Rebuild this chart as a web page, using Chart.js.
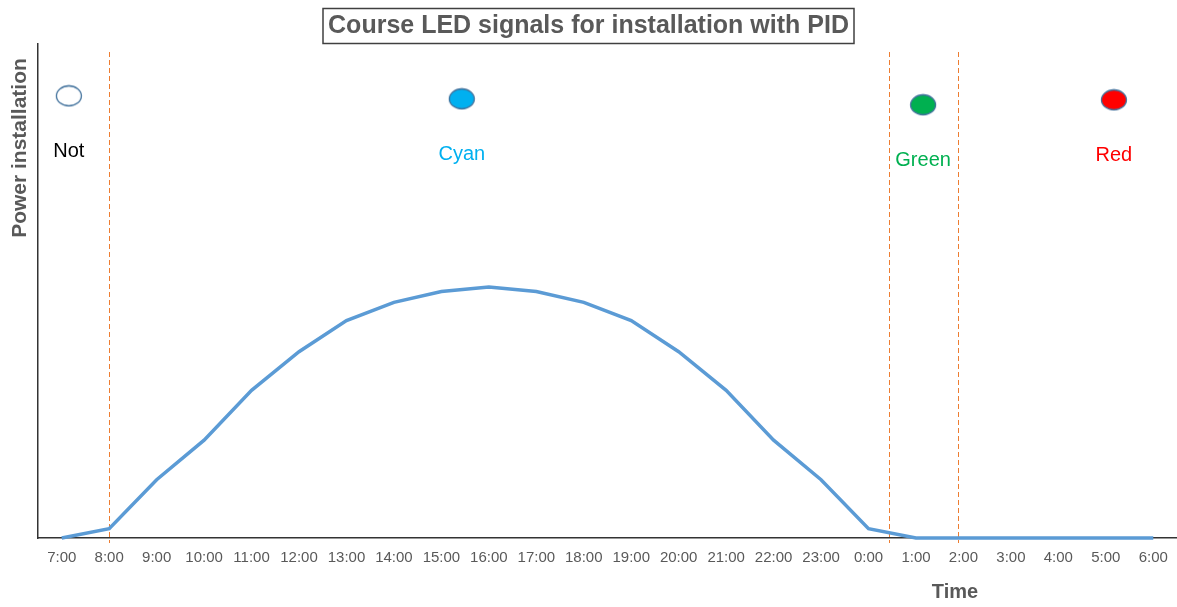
<!DOCTYPE html>
<html lang="en">
<head>
<meta charset="utf-8">
<title>Course LED signals for installation with PID</title>
<script src="https://cdn.jsdelivr.net/npm/chart.js@4.4.1/dist/chart.umd.min.js"></script>
<style>
    html, body { margin: 0; padding: 0; background: #ffffff; }
    #led-chart { display: block; }
</style>
</head>
<body>
<canvas id="led-chart" width="1177" height="607"></canvas>
<script>
// Data (power in % of the y axis height)
const timeLabels = ['7:00', '8:00', '9:00', '10:00', '11:00', '12:00', '13:00', '14:00', '15:00', '16:00',
    '17:00', '18:00', '19:00', '20:00', '21:00', '22:00', '23:00', '0:00', '1:00', '2:00', '3:00', '4:00', '5:00', '6:00'];
const powerValues = [0, 1.9, 11.8, 19.8, 29.9, 37.7, 44.0, 47.7, 49.9, 50.8,
    49.9, 47.7, 44.0, 37.7, 29.9, 19.8, 11.8, 1.9, 0, 0, 0, 0, 0, 0];

// LED states: where (in hours from 7:00) and how high the markers sit
const ledNames = ['Not', 'Cyan', 'Green', 'Red'];
const ledTimes = [0.15, 8.43, 18.15, 22.17];
const ledLevels = [89.5, 88.9, 87.7, 88.7];

// Phase boundaries (dashed lines), in hours from 7:00
const phaseBounds = [1, 17.44, 18.89];

// Styles
const FONT = "'Liberation Sans', Arial, Helvetica, sans-serif";
const TEXT_GRAY = '#595959';
const AXIS_COLOR = '#333333';
const LINE_BLUE = '#5B9BD5';
const DASH_ORANGE = '#ED7D31';
const ledFill = ['#FFFFFF', '#00B0F0', '#00B050', '#FF0000'];
const ledEdge = ['#41719C', '#41719C', '#41719C', '#41719C'];
const ledTextColor = ['#000000', '#00B0F0', '#00B050', '#FF0000'];

const LedChart = {
    init: function(canvas) {
        this.canvas = canvas;
        Chart.defaults.font.family = FONT;
        this.chart = new Chart(canvas.getContext('2d'), this.buildConfig());
    },

    // small elliptic sprite used as point style for the LED markers
    ledSprite: function(fill, edge) {
        const c = document.createElement('canvas');
        c.width = 28;
        c.height = 23;
        const g = c.getContext('2d');
        g.beginPath();
        g.ellipse(14, 11.5, 12.5, 10, 0, 0, Math.PI * 2);
        g.fillStyle = fill;
        g.fill();
        g.lineWidth = 1.3;
        g.strokeStyle = edge;
        g.stroke();
        return c;
    },

    buildDatasets: function() {
        const curve = {
            type: 'line',
            data: powerValues.map((v, i) => ({ x: i, y: v })),
            borderColor: LINE_BLUE,
            borderWidth: 3.5,
            pointRadius: 0,
            tension: 0,
            clip: false
        };
        const leds = {
            type: 'scatter',
            data: ledTimes.map((t, i) => ({ x: t, y: ledLevels[i] })),
            pointStyle: ledFill.map((f, i) => this.ledSprite(f, ledEdge[i])),
            pointRadius: 12,
            clip: false
        };
        return [curve, leds];
    },

    decorations: {
        id: 'decorations',
        beforeDatasetsDraw: function(chart) {
            const ctx = chart.ctx;
            const area = chart.chartArea;
            const x = chart.scales.x;
            ctx.save();
            ctx.strokeStyle = DASH_ORANGE;
            ctx.lineWidth = 1;
            ctx.setLineDash([5, 3]);
            phaseBounds.forEach(t => {
                const px = Math.round(x.getPixelForValue(t)) + 0.5;
                ctx.beginPath();
                ctx.moveTo(px, area.top + 8);
                ctx.lineTo(px, area.bottom + 5);
                ctx.stroke();
            });
            ctx.restore();
        },
        afterDatasetsDraw: function(chart) {
            const ctx = chart.ctx;
            const meta = chart.getDatasetMeta(1);
            ctx.save();
            ctx.font = '20px ' + FONT;
            ctx.textAlign = 'center';
            ctx.textBaseline = 'middle';
            meta.data.forEach((pt, i) => {
                ctx.fillStyle = ledTextColor[i];
                ctx.fillText(ledNames[i], pt.x, pt.y + 56);
            });
            ctx.restore();
        },
        afterDraw: function(chart) {
            const ctx = chart.ctx;
            ctx.save();
            ctx.fillStyle = TEXT_GRAY;
            ctx.textAlign = 'center';
            ctx.textBaseline = 'middle';

            // boxed title
            const title = 'Course LED signals for installation with PID';
            ctx.font = 'bold 25px ' + FONT;
            const w = ctx.measureText(title).width;
            const cx = chart.width / 2;
            ctx.fillText(title, cx, 26);
            ctx.strokeStyle = '#404040';
            ctx.lineWidth = 1.5;
            ctx.strokeRect(Math.round(cx - w / 2 - 5), 8.5, Math.round(w + 10), 35);

            // axis titles
            ctx.font = 'bold 20px ' + FONT;
            ctx.fillText('Time', 955, 592);
            ctx.font = 'bold 21px ' + FONT;
            ctx.translate(20, 148);
            ctx.rotate(-Math.PI / 2);
            ctx.fillText('Power installation', 0, 0);
            ctx.restore();
        }
    },

    buildConfig: function() {
        return {
            data: { datasets: this.buildDatasets() },
            options: {
                responsive: false,
                animation: false,
                events: [],
                layout: {
                    autoPadding: false,
                    padding: { top: 44, left: 0, right: 0, bottom: 0 }
                },
                plugins: {
                    legend: { display: false },
                    title: { display: false },
                    tooltip: { enabled: false }
                },
                scales: {
                    x: {
                        type: 'linear',
                        min: -0.5,
                        max: 23.5,
                        afterBuildTicks: function(scale) {
                            scale.ticks = timeLabels.map((l, i) => ({ value: i }));
                        },
                        afterFit: function(scale) {
                            scale.height = 69;
                            scale.paddingLeft = 0;
                            scale.paddingRight = 0;
                        },
                        grid: { display: false, drawTicks: false },
                        border: { display: true, color: AXIS_COLOR, width: 1.5 },
                        ticks: {
                            autoSkip: false,
                            maxRotation: 0,
                            padding: 11,
                            color: TEXT_GRAY,
                            font: { size: 15 },
                            callback: function(value) { return timeLabels[value]; }
                        }
                    },
                    y: {
                        min: 0,
                        max: 100,
                        afterFit: function(scale) {
                            scale.width = 38;
                            scale.paddingTop = 0;
                            scale.paddingBottom = 0;
                        },
                        grid: { display: false, drawTicks: false },
                        border: { display: true, color: AXIS_COLOR, width: 1.5 },
                        ticks: { display: false }
                    }
                }
            },
            plugins: [this.decorations]
        };
    }
};

LedChart.init(document.getElementById('led-chart'));
</script>
</body>
</html>
